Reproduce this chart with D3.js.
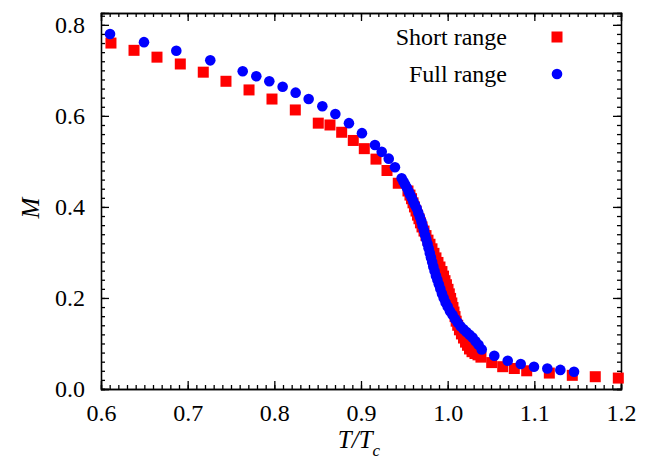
<!DOCTYPE html>
<html>
<head>
<meta charset="utf-8">
<script src="https://cdn.jsdelivr.net/npm/d3@7"></script>
<style>
  body { margin: 0; background: #fff; }
  svg { display: block; }
  svg text { font-family: "Liberation Serif", "Times New Roman", Times, serif; fill: #000; }
  .axis path, .axis line { stroke: #000; stroke-width: 1.3; }
  .axis text { font-size: 24px; }
</style>
</head>
<body>
<script>
// tick labels
var xTicks = [0.6, 0.7, 0.8, 0.9, 1.0, 1.1, 1.2];
var yTicks = [0.0, 0.2, 0.4, 0.6, 0.8];

// Short range series (red squares): T/Tc and M
var shortT = [0.6115, 0.6381, 0.6646, 0.6915, 0.7180, 0.7442, 0.7708, 0.7973, 0.8242, 0.8507,
  0.8642, 0.8777, 0.8911, 0.9038, 0.9173, 0.9300, 0.9430,
  0.9542, 0.9565, 0.9583, 0.9600, 0.9617, 0.9635, 0.9652, 0.9669, 0.9686, 0.9704,
  0.9727, 0.9750, 0.9773, 0.9796, 0.9819, 0.9842, 0.9865, 0.9888, 0.9911, 0.9934,
  0.9952, 0.9969, 0.9986, 1.0004, 1.0019, 1.0034, 1.0048, 1.0061, 1.0073, 1.0085,
  1.0098, 1.0116, 1.0136, 1.0159, 1.0183, 1.0206, 1.0229, 1.0252, 1.0281, 1.0315,
  1.0350, 1.0384, 1.0508, 1.0635, 1.0769, 1.0912, 1.1173, 1.1438, 1.1703, 1.1969];
var shortM = [0.760, 0.744, 0.729, 0.714, 0.696, 0.676, 0.657, 0.637, 0.613, 0.584,
  0.580, 0.564, 0.546, 0.528, 0.505, 0.480, 0.452,
  0.435, 0.426, 0.418, 0.409, 0.400, 0.391, 0.382, 0.374, 0.365, 0.356,
  0.347, 0.337, 0.327, 0.318, 0.308, 0.298, 0.288, 0.278, 0.268, 0.258,
  0.248, 0.238, 0.229, 0.219, 0.209, 0.199, 0.189, 0.179, 0.169, 0.159,
  0.149, 0.140, 0.130, 0.121, 0.112, 0.103, 0.096, 0.088, 0.082, 0.078,
  0.075, 0.070, 0.058, 0.049, 0.045, 0.040, 0.035, 0.030, 0.027, 0.024];

// Full range series (blue circles)
var fullT = [0.6104, 0.6496, 0.6869, 0.7261, 0.7635, 0.7792, 0.7942, 0.8096, 0.8246, 0.8396,
  0.8554, 0.8704, 0.8861, 0.9011, 0.9161, 0.9239, 0.9320, 0.9392,
  0.9469, 0.9490, 0.9509, 0.9530, 0.9550, 0.9567, 0.9585, 0.9604, 0.9623, 0.9642,
  0.9661, 0.9680, 0.9698, 0.9711, 0.9727, 0.9740, 0.9753, 0.9767, 0.9780, 0.9794,
  0.9807, 0.9821, 0.9834, 0.9849, 0.9865, 0.9881, 0.9898, 0.9915, 0.9934, 0.9954,
  0.9976, 1.0000, 1.0027, 1.0056, 1.0085, 1.0116, 1.0148, 1.0183, 1.0217, 1.0252,
  1.0287, 1.0321, 1.0356, 1.0393, 1.0538, 1.0693, 1.0843, 1.0996, 1.1150, 1.1300, 1.1458];
var fullM = [0.780, 0.762, 0.743, 0.722, 0.698, 0.687, 0.676, 0.664, 0.651, 0.637,
  0.621, 0.604, 0.584, 0.562, 0.536, 0.521, 0.506, 0.487,
  0.463, 0.456, 0.449, 0.442, 0.434, 0.427, 0.420, 0.412, 0.404, 0.397,
  0.387, 0.378, 0.368, 0.358, 0.348, 0.338, 0.329, 0.319, 0.309, 0.299,
  0.289, 0.279, 0.269, 0.259, 0.249, 0.240, 0.230, 0.220, 0.210, 0.200,
  0.190, 0.181, 0.171, 0.163, 0.154, 0.146, 0.138, 0.131, 0.125, 0.119,
  0.113, 0.105, 0.097, 0.087, 0.073, 0.062, 0.055, 0.049, 0.045, 0.042, 0.038];

var width = 661, height = 466;

var svg = d3.select("body").append("svg")
  .attr("width", width)
  .attr("height", height);

var x = d3.scaleLinear().domain([0.6, 1.2]).range([101, 621]);
var y = d3.scaleLinear().domain([0, 0.826]).range([389, 13]);

var xMinor = d3.range(60, 121).map(function (d) { return d / 100; });
var yMinor = d3.range(0, 42).map(function (d) { return d / 50; });

var fmt = d3.format(".1f");

/**
 * Add one set of inward ticks to a side of the frame
 */
function addTicks(axis, tx, ty) {
  var g = svg.append("g").attr("class", "axis")
    .attr("transform", "translate(" + tx + "," + ty + ")")
    .call(axis);
  g.attr("font-family", null).attr("font-size", null);
  return g;
}

// minor ticks, all four sides
addTicks(d3.axisBottom(x).tickValues(xMinor).tickSize(-4).tickFormat(""), 0, 389);
addTicks(d3.axisTop(x).tickValues(xMinor).tickSize(-4).tickFormat(""), 0, 13);
addTicks(d3.axisLeft(y).tickValues(yMinor).tickSize(-4).tickFormat(""), 101, 0);
addTicks(d3.axisRight(y).tickValues(yMinor).tickSize(-4).tickFormat(""), 621, 0);

// major ticks with labels
addTicks(d3.axisBottom(x).tickValues(xTicks).tickSize(-8).tickPadding(15).tickFormat(fmt), 0, 389);
addTicks(d3.axisTop(x).tickValues(xTicks).tickSize(-8).tickFormat(""), 0, 13);
addTicks(d3.axisLeft(y).tickValues(yTicks).tickSize(-8).tickPadding(16).tickFormat(fmt), 101, 0);
addTicks(d3.axisRight(y).tickValues(yTicks).tickSize(-8).tickFormat(""), 621, 0);

// red squares first, blue circles drawn over them
var sq = 11;
svg.append("g").selectAll("rect")
  .data(d3.range(shortT.length))
  .enter().append("rect")
  .attr("x", function (i) { return x(shortT[i]) - sq / 2; })
  .attr("y", function (i) { return y(shortM[i]) - sq / 2; })
  .attr("width", sq)
  .attr("height", sq)
  .attr("fill", "#ff0000");

svg.append("g").selectAll("circle")
  .data(d3.range(fullT.length))
  .enter().append("circle")
  .attr("cx", function (i) { return x(fullT[i]); })
  .attr("cy", function (i) { return y(fullM[i]); })
  .attr("r", 5.3)
  .attr("fill", "#0000ff");

// axis titles
svg.append("text")
  .attr("transform", "translate(39,208) rotate(-90)")
  .attr("text-anchor", "middle")
  .attr("font-style", "italic")
  .attr("font-size", 25)
  .text("M");

var xt = svg.append("text")
  .attr("x", 359)
  .attr("y", 448)
  .attr("text-anchor", "middle")
  .attr("font-style", "italic")
  .attr("font-size", 25);
xt.append("tspan").text("T/T");
xt.append("tspan").attr("dy", 8).attr("font-size", 17).text("c");

// legend
var legend = [
  { label: "Short range", color: "#ff0000", shape: "square", y: 37 },
  { label: "Full range", color: "#0000ff", shape: "circle", y: 74 }
];
legend.forEach(function (d) {
  svg.append("text")
    .attr("x", 507)
    .attr("y", d.y + 8)
    .attr("text-anchor", "end")
    .attr("font-size", 24)
    .text(d.label);
  if (d.shape === "square") {
    svg.append("rect")
      .attr("x", 557 - sq / 2).attr("y", d.y - sq / 2)
      .attr("width", sq).attr("height", sq)
      .attr("fill", d.color);
  } else {
    svg.append("circle")
      .attr("cx", 557).attr("cy", d.y).attr("r", 5.3)
      .attr("fill", d.color);
  }
});
</script>
</body>
</html>
